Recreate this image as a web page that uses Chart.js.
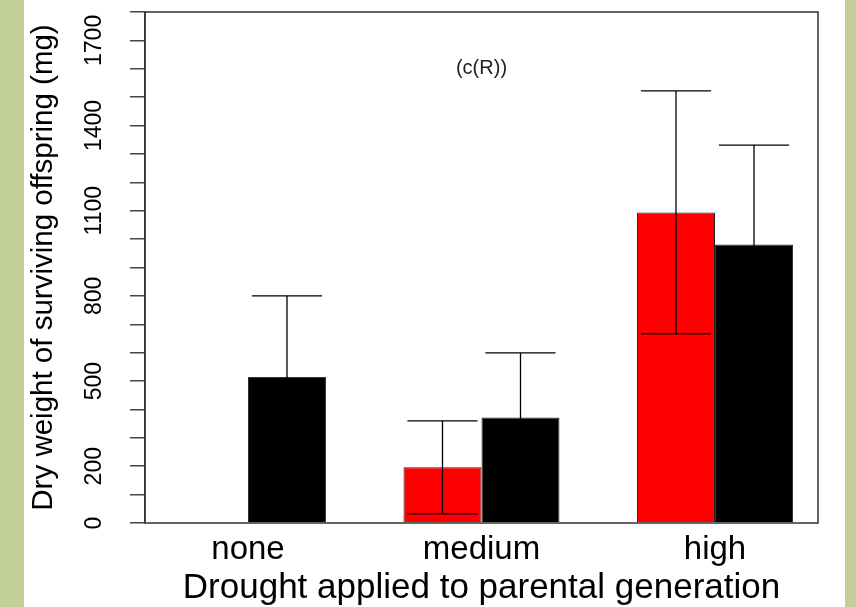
<!DOCTYPE html>
<html lang="en">
<head>
<meta charset="UTF-8">
<title>Dry weight of surviving offspring</title>
<script src="https://cdn.jsdelivr.net/npm/chart.js"></script>
<style>
  html, body { margin: 0; padding: 0; background: #fff; }
  canvas { display: block; }
</style>
</head>
<body>
<canvas id="chart" width="856" height="607"></canvas>
<script>
const categories = ['none', 'medium', 'high'];
const redMeans = [null, 196, 1094];
const redErrors = [null, 164, 428];
const blackMeans = [514, 372, 981];
const blackErrors = [286, 227, 350];
const yLabelValues = [0, 200, 500, 800, 1100, 1400, 1700];
const panelNote = '(c(R))';

const FONT = 'Liberation Sans, Arial, Helvetica, sans-serif';

// green side strips around the white panel
const backdrop = {
    id: 'backdrop',
    beforeDraw(chart) {
        const ctx = chart.ctx;
        ctx.save();
        ctx.fillStyle = '#c3cf98';
        ctx.fillRect(0, 0, chart.width, chart.height);
        ctx.fillStyle = '#ffffff';
        ctx.fillRect(24, 0, 821, chart.height);
        ctx.restore();
    }
};

// whiskers with caps, drawn over the bars
const errorBars = {
    id: 'errorBars',
    afterDatasetsDraw(chart) {
        const ctx = chart.ctx;
        const yScale = chart.scales.y;
        ctx.save();
        ctx.strokeStyle = '#000';
        ctx.lineWidth = 1.3;
        chart.data.datasets.forEach((ds, d) => {
            const meta = chart.getDatasetMeta(d);
            meta.data.forEach((bar, i) => {
                const mean = ds.data[i].y;
                const err = ds.errors[i];
                if (mean == null || err == null) return;
                const top = yScale.getPixelForValue(mean + err);
                const bottom = yScale.getPixelForValue(mean - err);
                const half = bar.width * 0.45;
                ctx.beginPath();
                ctx.moveTo(bar.x, bottom);
                ctx.lineTo(bar.x, top);
                ctx.moveTo(bar.x - half, top);
                ctx.lineTo(bar.x + half, top);
                ctx.moveTo(bar.x - half, bottom);
                ctx.lineTo(bar.x + half, bottom);
                ctx.stroke();
            });
        });
        ctx.restore();
    }
};

// box round the plot region and the panel note
const frame = {
    id: 'frame',
    afterDraw(chart) {
        const ctx = chart.ctx;
        const a = chart.chartArea;
        ctx.save();
        ctx.strokeStyle = '#333';
        ctx.lineWidth = 1.5;
        ctx.strokeRect(a.left, a.top, a.right - a.left, a.bottom - a.top);
        ctx.fillStyle = '#222';
        ctx.font = '20px ' + FONT;
        ctx.textAlign = 'center';
        ctx.textBaseline = 'middle';
        ctx.fillText(panelNote, (a.left + a.right) / 2, chart.scales.y.getPixelForValue(1600));
        ctx.restore();
    }
};

new Chart(document.getElementById('chart').getContext('2d'), {
    type: 'bar',
    data: {
        datasets: [
            {
                label: 'red',
                data: redMeans.map((v, i) => ({ x: i + 1, y: v })),
                errors: redErrors,
                backgroundColor: '#ff0000',
                borderColor: '#222',
                borderWidth: 1
            },
            {
                label: 'black',
                data: blackMeans.map((v, i) => ({ x: i + 1, y: v })),
                errors: blackErrors,
                backgroundColor: '#000000',
                borderColor: '#333',
                borderWidth: 1
            }
        ]
    },
    options: {
        responsive: false,
        animation: false,
        categoryPercentage: 0.668,
        barPercentage: 1,
        layout: { padding: { left: 0, top: 12, right: 38, bottom: 0 } },
        plugins: {
            legend: { display: false },
            tooltip: { enabled: false }
        },
        scales: {
            x: {
                type: 'linear',
                offset: false,
                min: 0.559,
                max: 3.441,
                afterBuildTicks: (scale) => {
                    scale.ticks = categories.map((c, i) => ({ value: i + 1 }));
                },
                afterFit: (scale) => {
                    scale.height = 84;
                    scale.paddingLeft = 0;
                    scale.paddingRight = 0;
                },
                grid: { display: false, drawTicks: false },
                border: { display: false },
                ticks: {
                    padding: 7,
                    color: '#000',
                    font: { family: FONT, size: 33 },
                    callback: (v) => categories[v - 1] || ''
                },
                title: {
                    display: true,
                    text: 'Drought applied to parental generation',
                    color: '#000',
                    font: { family: FONT, size: 35, lineHeight: 1.05 },
                    padding: { top: 0, bottom: 0 }
                }
            },
            y: {
                min: 0,
                max: 1800,
                afterFit: (scale) => {
                    scale.width = 145;
                    scale.paddingTop = 0;
                    scale.paddingBottom = 0;
                },
                grid: {
                    drawOnChartArea: false,
                    drawTicks: true,
                    tickLength: 15,
                    color: '#444',
                    lineWidth: 1.5
                },
                border: { display: true, color: '#333', width: 1.5 },
                ticks: {
                    stepSize: 100,
                    autoSkip: false,
                    minRotation: 90,
                    maxRotation: 90,
                    crossAlign: 'center',
                    padding: 10,
                    color: '#000',
                    font: { family: FONT, size: 23 },
                    callback: (v) => yLabelValues.includes(v) ? String(v) : ''
                },
                title: {
                    display: true,
                    text: 'Dry weight of surviving offspring (mg)',
                    color: '#000',
                    font: { family: FONT, size: 29.5, lineHeight: 1.2 },
                    padding: { top: 26, bottom: 0 }
                }
            }
        }
    },
    plugins: [backdrop, errorBars, frame]
});
</script>
</body>
</html>
